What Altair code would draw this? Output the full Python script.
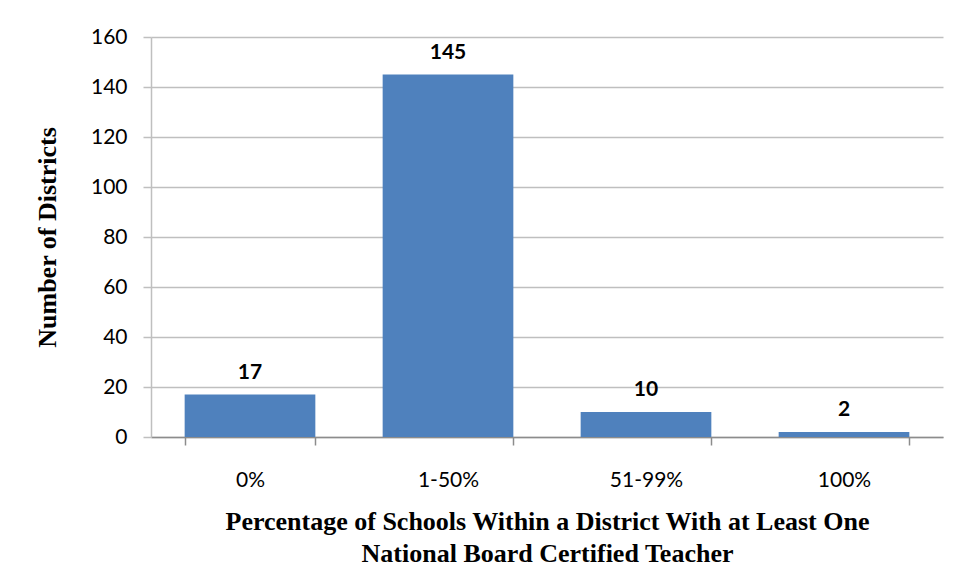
import altair as alt
import pandas as pd

categories = ["0%", "1-50%", "51-99%", "100%"]
districts = [17, 145, 10, 2]
x_title = ["Percentage of Schools Within a District With at Least One",
           "National Board Certified Teacher"]
y_title = "Number of Districts"

df = pd.DataFrame({"cat": categories, "n": districts})

base = alt.Chart(df).encode(
    x=alt.X("cat:N", sort=categories,
            scale=alt.Scale(paddingInner=0.34, paddingOuter=0.17),
            axis=alt.Axis(title=x_title, labelAngle=0, labelFont="Lato",
                          labelFontSize=21, labelColor="#000000",
                          labelPadding=24, tickSize=8, tickBand="extent",
                          domainColor="#8c8c8c", tickColor="#8c8c8c",
                          titleFont="Liberation Serif", titleFontWeight="bold",
                          titleFontSize=26, titleColor="#000000",
                          titlePadding=18, titleLineHeight=32)),
    y=alt.Y("n:Q", scale=alt.Scale(domain=[0, 160]),
            axis=alt.Axis(title=y_title, values=list(range(0, 161, 20)),
                          labelFont="Lato", labelFontSize=21,
                          labelColor="#000000", labelPadding=16, tickSize=8,
                          domain=True, domainColor="#bfbfbf",
                          tickColor="#bfbfbf", gridColor="#bfbfbf",
                          titleFont="Liberation Serif", titleFontWeight="bold",
                          titleFontSize=26, titleColor="#000000",
                          titlePadding=30)),
)

bars = base.mark_bar(color="#4F81BD")
labels = base.mark_text(baseline="bottom", dy=-12, font="Lato",
                        fontWeight="bold", fontSize=21,
                        color="#000000").encode(text="n:Q")

chart = (bars + labels).properties(
    width=792, height=400,
    padding={"left": 26, "top": 18, "right": 10, "bottom": 5},
).configure_view(stroke=None).configure_axis(gridWidth=1.5, domainWidth=1.5, tickWidth=1.5)

chart.save("out.html", embed_options={"renderer": "svg", "actions": False})
